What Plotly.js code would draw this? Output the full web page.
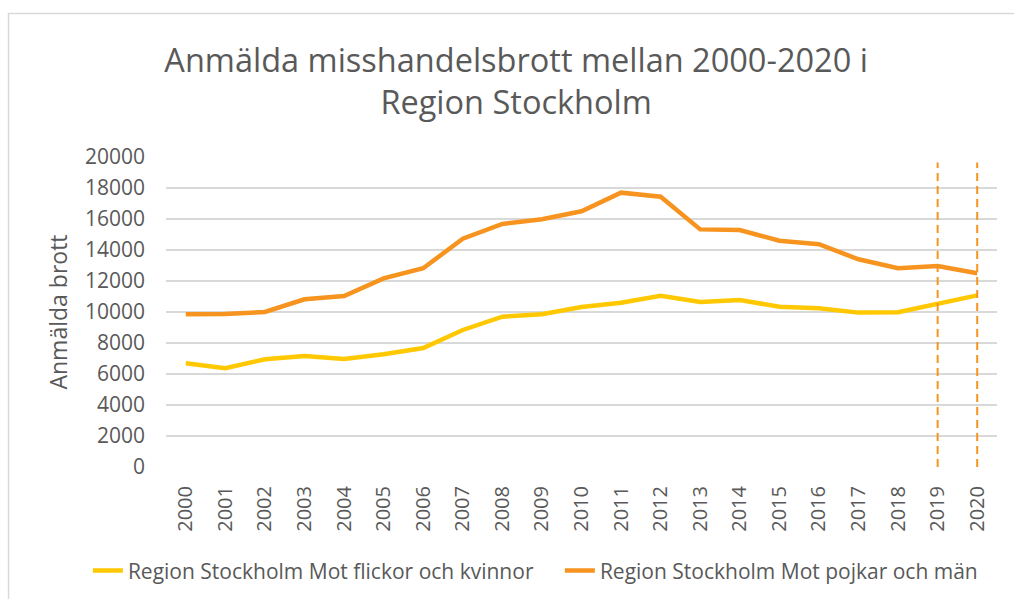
<!DOCTYPE html>
<html>
<head>
<meta charset="utf-8">
<script src="https://cdn.plot.ly/plotly-3.0.1.min.js"></script>
<style>
  html, body { margin: 0; padding: 0; background: #fff; }
  #chart { width: 1014px; height: 599px; }
</style>
</head>
<body>
<div id="chart"></div>
<script>
const years = ["2000","2001","2002","2003","2004","2005","2006","2007","2008","2009","2010",
               "2011","2012","2013","2014","2015","2016","2017","2018","2019","2020"];
const femaleVictims = [6690, 6370, 6950, 7160, 6970, 7270, 7680, 8840, 9700, 9850, 10320,
                       10600, 11050, 10650, 10770, 10340, 10240, 9960, 9980, 10560, 11070];
const maleVictims = [9850, 9870, 10000, 10820, 11030, 12170, 12820, 14730, 15680, 15980, 16500,
                     17700, 17440, 15330, 15290, 14600, 14370, 13400, 12820, 12970, 12500];
const seriesNames = ["Region Stockholm Mot flickor och kvinnor", "Region Stockholm Mot pojkar och män"];
const markedYears = ["2019", "2020"];
const yTickVals = [0, 2000, 4000, 6000, 8000, 10000, 12000, 14000, 16000, 18000, 20000];
const titleText = "Anmälda misshandelsbrott mellan 2000-2020 i<br>Region Stockholm";
const yTitleText = "Anmälda brott";

const YELLOW = "#FFC800";
const ORANGE = "#F7941F";
const GRID = "#D9D9D9";
const TXT = "#595959";
const FONT = "Open Sans, sans-serif";

const traces = [
  { x: years, y: femaleVictims, name: seriesNames[0], type: "scatter", mode: "lines",
    line: { color: YELLOW, width: 4.5 } },
  { x: years, y: maleVictims, name: seriesNames[1], type: "scatter", mode: "lines",
    line: { color: ORANGE, width: 4.5 } }
];

const shapes = markedYears.map(yr => ({
  type: "line", xref: "x", yref: "y",
  x0: years.indexOf(yr), x1: years.indexOf(yr), y0: 0, y1: 19650,
  line: { color: ORANGE, width: 2, dash: "8px,5px" }, layer: "above"
}));
shapes.push({
  type: "rect", xref: "paper", yref: "paper",
  x0: -0.1895, x1: 1.05, y0: -0.5, y1: 1.463,
  line: { color: GRID, width: 1.5 }, fillcolor: "rgba(0,0,0,0)", layer: "below"
});

const layout = {
  width: 1014, height: 599,
  margin: { l: 166, r: 17, t: 157, b: 132, pad: 0, autoexpand: false },
  paper_bgcolor: "#fff", plot_bgcolor: "#fff",
  font: { family: FONT, color: TXT },
  title: { text: titleText, font: { family: FONT, size: 32.5, color: TXT },
           x: 0.509, xanchor: "center", xref: "container", y: 0.88, yanchor: "middle", yref: "container" },
  xaxis: {
    type: "category", range: [-0.5, years.length - 0.5],
    showgrid: false, zeroline: false, showline: false, ticks: "",
    tickangle: -90, tickfont: { family: FONT, size: 20, color: TXT },
    ticklabelstandoff: 14, automargin: false, fixedrange: true
  },
  yaxis: {
    range: [0, 20000], tickvals: yTickVals, ticktext: yTickVals.map(String),
    showgrid: true, gridcolor: GRID, gridwidth: 1.3, zeroline: false, showline: false, ticks: "",
    tickfont: { family: FONT, size: 21, color: TXT },
    ticklabelstandoff: 20, automargin: false, fixedrange: true,
    title: { text: yTitleText, font: { family: FONT, size: 23, color: TXT }, standoff: 10 }
  },
  legend: {
    orientation: "h", xref: "paper", yref: "paper",
    x: -0.094, xanchor: "left", y: -0.335, yanchor: "middle",
    font: { family: FONT, size: 21, color: TXT }, bgcolor: "rgba(0,0,0,0)",
    itemwidth: 30, tracegroupgap: 0, entrywidth: 427, entrywidthmode: "pixels"
  },
  shapes: shapes,
  showlegend: true
};

Plotly.newPlot("chart", traces, layout, { staticPlot: true, displayModeBar: false });
</script>
</body>
</html>
